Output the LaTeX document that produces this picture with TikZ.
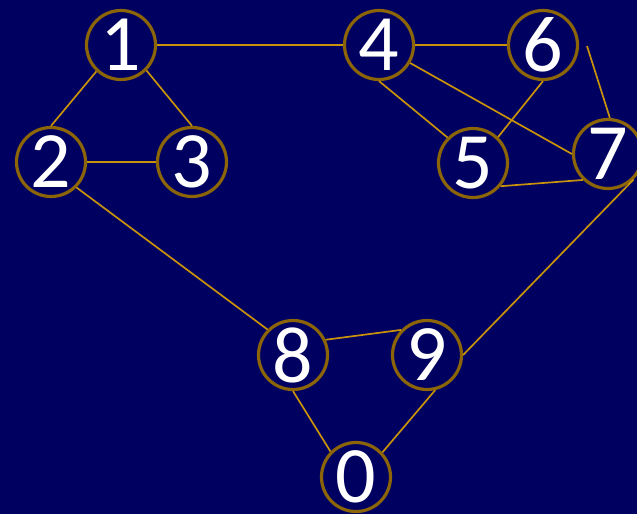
\documentclass[tikz,border=0pt]{standalone}
\usepackage{fontspec}
\setmainfont{Carlito}
\definecolor{bg}{HTML}{000060}
\definecolor{ring}{HTML}{8C6508}
\definecolor{edge}{HTML}{C8930A}
\begin{document}
\begin{tikzpicture}[x=1pt,y=-1pt,
  vert/.style={circle,draw=ring,line width=3.2pt,minimum size=69pt,inner sep=0pt,text=white,font=\fontsize{80}{80}\selectfont},
  link/.style={draw=edge,line width=1.7pt}]
\fill[bg] (0,0) rectangle (637,514);
\useasboundingbox (0,0) rectangle (637,514);
\node[vert] (n1) at (121,45) {1};
\node[vert] (n4) at (379,45) {4};
\node[vert] (n6) at (543,45) {6};
\node[vert] (n2) at (51,162) {2};
\node[vert] (n3) at (192,162) {3};
\node[vert] (n5) at (473,163) {5};
\node[vert] (n7) at (608,154) {7};
\node[vert] (n8) at (293,355) {8};
\node[vert] (n9) at (427,355) {9};
\node[vert] (n0) at (356,477) {0};
\coordinate (c67) at (587,46);
\draw[link] (n1.east) -- (n4.west);
\draw[link] (n1.-133) -- (n2.90);
\draw[link] (n1.-45) -- (n3.90);
\draw[link] (n2.east) -- (n3.west);
\draw[link] (n2.-45) -- (n8.135);
\draw[link] (n4.east) -- (n6.west);
\draw[link] (n4.-90) -- (n5.135);
\draw[link] (n4.-30) -- (n7.180);
\draw[link] (n6.-90) -- (n5.46);
\draw[link] (c67) -- (n7.87);
\draw[link] (n5.-40) -- (n7.-134);
\draw[link] (n7.-45) -- (n9.0);
\draw[link] (n8.25) -- (n9.136);
\draw[link] (n8.-90) -- (n0.135);
\draw[link] (n9.-77) -- (n0.43);
\end{tikzpicture}
\end{document}
